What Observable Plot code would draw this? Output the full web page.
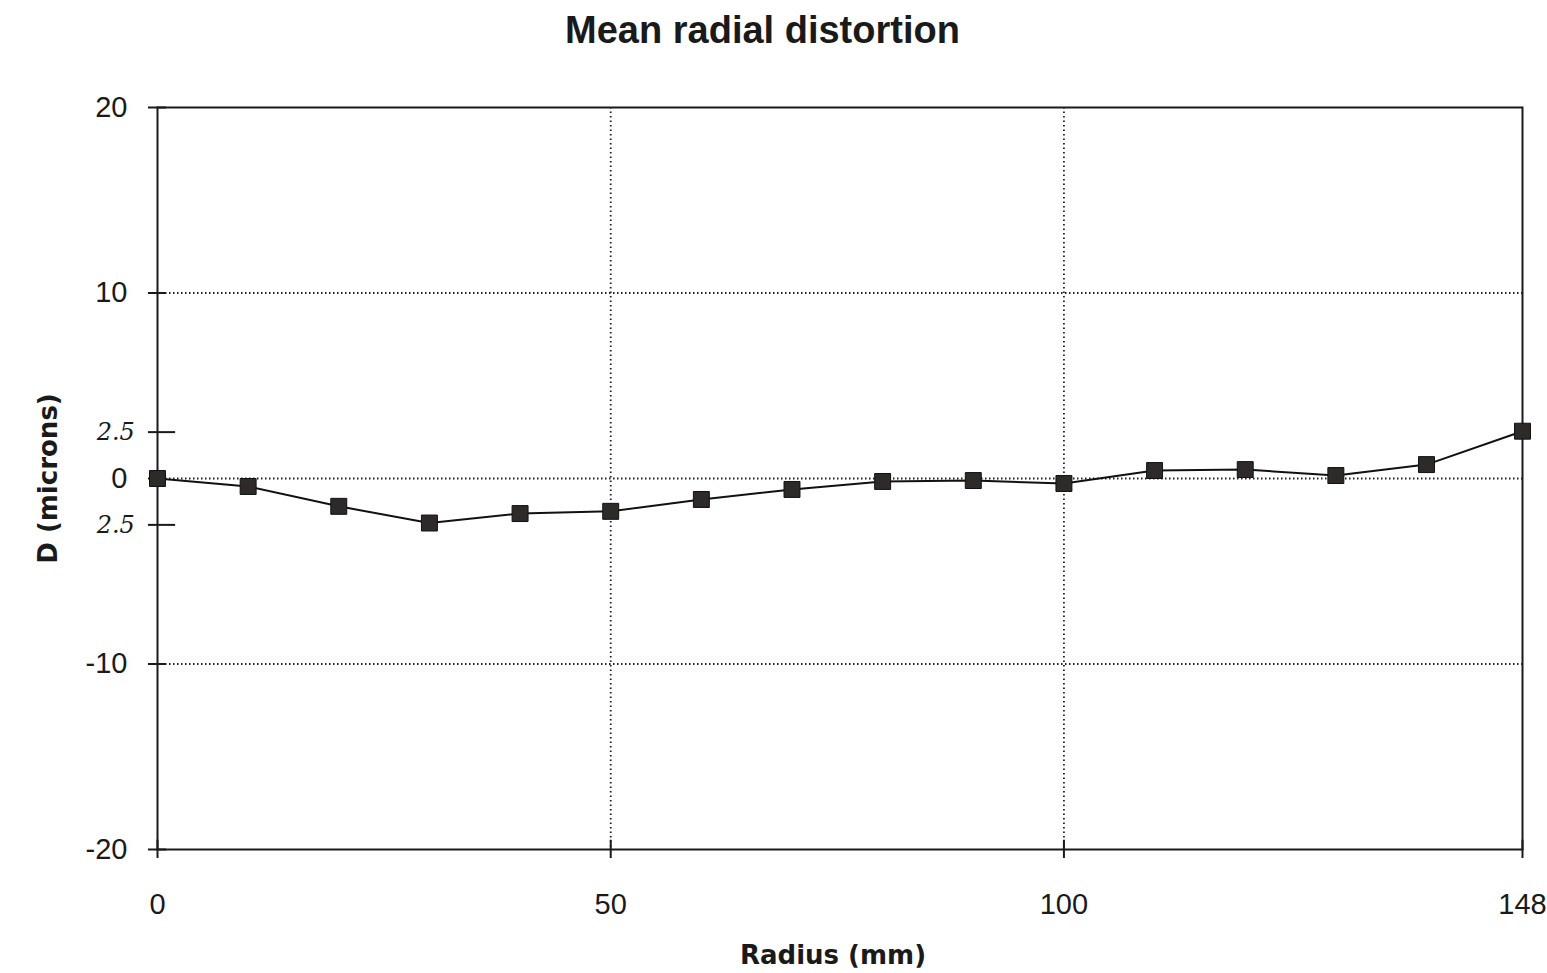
<!DOCTYPE html>
<html>
<head>
<meta charset="utf-8">
<script src="https://cdn.jsdelivr.net/npm/d3@7"></script>
<script src="https://cdn.jsdelivr.net/npm/@observablehq/plot@0.6"></script>
<style>
  body { margin: 0; background: #fff; font-family: "Liberation Sans", Arial, sans-serif; }
  #title { width: 1525px; height: 60px; line-height: 60px; text-align: center; font-size: 38px; font-weight: bold; color: #1a1a1a; }
</style>
</head>
<body>
<div id="title">Mean radial distortion</div>
<div id="chart"></div>
<script>
// Data
const radius = [0, 10, 20, 30, 40, 50, 60, 70, 80, 90, 100, 110, 120, 130, 140, 148];
const distortion = [0, -0.43, -1.5, -2.4, -1.89, -1.77, -1.13, -0.59, -0.16, -0.11, -0.27, 0.43, 0.48, 0.16, 0.75, 2.55];
const xTicks = [0, 50, 100, 148];
const yTicks = [-20, -10, 0, 10, 20];
const xGrid = [50, 100];
const yGrid = [-10, 0, 10];
const handTicks = [2.5, -2.5];
const handLabels = ["2.5", "2.5"];
const xLabel = "Radius (mm)";
const yLabel = "D (microns)";

const data = radius.map((r, i) => ({r, d: distortion[i]}));
const hand = handTicks.map((v, i) => ({v, t: handLabels[i]}));

const W = 1547, H = 913, mL = 157, mR = 25, mT = 47, mB = 124;
const labelFont = "'DejaVu Sans', sans-serif";

const chart = Plot.plot({
  width: W,
  height: H,
  marginLeft: mL,
  marginRight: mR,
  marginTop: mT,
  marginBottom: mB,
  style: {fontFamily: "'Liberation Sans', Arial, sans-serif", color: "#1a1a1a", background: "#fff"},
  x: {type: "linear", domain: [0, 140, 148], range: [157, 1426, 1522]},
  y: {type: "linear", domain: [-20, 20]},
  marks: [
    Plot.ruleY(yGrid, {stroke: "#222", strokeWidth: 1.8, strokeDasharray: "1.5,2.5"}),
    Plot.ruleX(xGrid, {stroke: "#222", strokeWidth: 1.8, strokeDasharray: "1.5,3"}),
    Plot.frame({stroke: "#1a1a1a", strokeWidth: 2}),
    Plot.axisY({ticks: yTicks, tickSize: 9, tickPadding: 21, fontSize: 29, strokeWidth: 2, label: null, tickFormat: d => String(d)}),
    Plot.axisX({ticks: xTicks, tickSize: 9, tickPadding: 35, fontSize: 29, strokeWidth: 2, label: null, tickFormat: d => String(d)}),
    Plot.ruleY(yTicks, {x1: 0, x2: 1, stroke: "#1a1a1a", strokeWidth: 2}),
    Plot.ruleX(xTicks, {y1: -20, y2: -19.5, stroke: "#1a1a1a", strokeWidth: 2}),
    Plot.ruleY(hand, {y: "v", x1: -1, x2: 2, stroke: "#1a1a1a", strokeWidth: 2}),
    Plot.text(hand, {y: "v", x: -4.6, text: "t", fontSize: 24, fontStyle: "italic", fontFamily: "'DejaVu Serif', serif", fill: "#1a1a1a"}),
    Plot.line(data, {x: "r", y: "d", stroke: "#111", strokeWidth: 2}),
    Plot.dot(data, {x: "r", y: "d", symbol: "square", r: 9, fill: "#2e2a2a", stroke: "#111", strokeWidth: 1}),
    Plot.text([yLabel], {frameAnchor: "left", dx: -109, rotate: -90, textAnchor: "middle", lineAnchor: "middle", fontSize: 26, fontWeight: "bold", fontFamily: labelFont, fill: "#1a1a1a"}),
    Plot.text([xLabel], {frameAnchor: "bottom", dx: -7, dy: 106, textAnchor: "middle", lineAnchor: "middle", fontSize: 26, fontWeight: "bold", fontFamily: labelFont, fill: "#1a1a1a"})
  ]
});
document.getElementById("chart").appendChild(chart);
</script>
</body>
</html>
